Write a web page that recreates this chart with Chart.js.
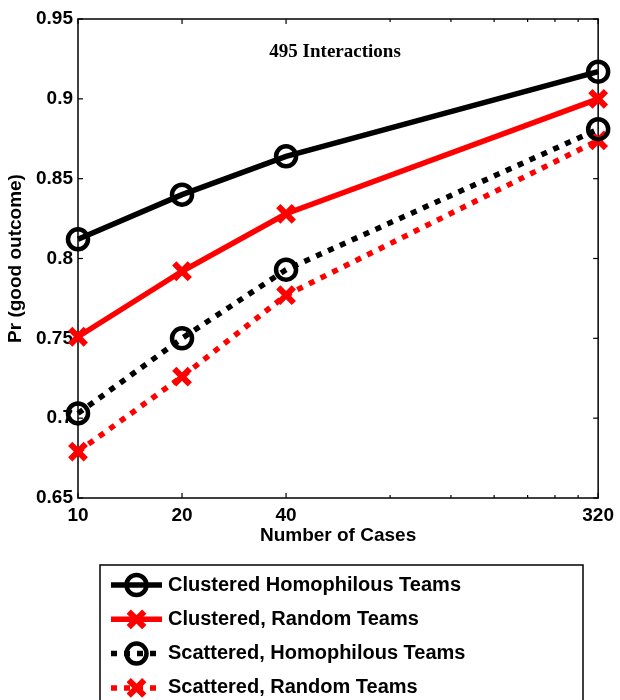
<!DOCTYPE html>
<html><head><meta charset="utf-8">
<script src="https://cdn.jsdelivr.net/npm/chart.js@4/dist/chart.umd.min.js"></script>
<style>html,body{margin:0;padding:0;background:#fff}#wrap{width:620px;height:700px;position:relative}</style>
</head><body><div id="wrap"><canvas id="c" width="620" height="700"></canvas></div>
<script>
// ---- data ----
const cases = [10, 20, 40, 320];
const xTickValues = [10, 20, 40, 320];
const xMinorTicks = [80, 120, 160, 200, 240, 280];
const yTickValues = [0.65, 0.7, 0.75, 0.8, 0.85, 0.9, 0.95];
const clusteredHomophilous = [0.812, 0.840, 0.864, 0.917];
const clusteredRandom      = [0.751, 0.792, 0.828, 0.900];
const scatteredHomophilous = [0.703, 0.750, 0.793, 0.881];
const scatteredRandom      = [0.679, 0.726, 0.777, 0.874];
const seriesNames = ['Clustered Homophilous Teams', 'Clustered, Random Teams',
                     'Scattered, Homophilous Teams', 'Scattered, Random Teams'];
const xTitle = 'Number of Cases';
const yTitle = 'Pr (good outcome)';
const annotationText = '495 Interactions';

// ---- styles ----
const SANS = '"Liberation Sans", Arial, sans-serif';
const SERIF = '"Liberation Serif", "Times New Roman", serif';
const DOT = [6, 7];
function pts(vals){ return cases.map((c,i)=>({x:c, y:vals[i]})); }
function ds(label, vals, color, style, dashed){
  return {
    label, data: pts(vals), borderColor: color, backgroundColor: color,
    borderWidth: 5.5, borderDash: dashed ? DOT : [], borderCapStyle: 'butt',
    pointStyle: style, pointRadius: style === 'circle' ? 10 : 11,
    pointBorderWidth: style === 'circle' ? 4.5 : 6,
    pointBackgroundColor: 'rgba(0,0,0,0)', pointBorderColor: color,
    pointHoverRadius: 10, tension: 0, clip: false, fill: false
  };
}
const datasets = [
  ds(seriesNames[0], clusteredHomophilous, '#000000', 'circle', false),
  ds(seriesNames[1], clusteredRandom, '#ff0000', 'crossRot', false),
  ds(seriesNames[2], scatteredHomophilous, '#000000', 'circle', true),
  ds(seriesNames[3], scatteredRandom, '#ff0000', 'crossRot', true)
];

const framePlugin = {
  id: 'frame',
  beforeDatasetsDraw(chart){
    const {ctx, chartArea:a, scales:{x, y}} = chart;
    ctx.save();
    ctx.strokeStyle = '#000'; ctx.lineWidth = 1.5;
    ctx.strokeRect(a.left, a.top, a.right - a.left, a.bottom - a.top);
    ctx.lineWidth = 1.2;
    const tick = (x1,y1,x2,y2)=>{ctx.beginPath();ctx.moveTo(x1,y1);ctx.lineTo(x2,y2);ctx.stroke();};
    xTickValues.forEach(v=>{ const px = x.getPixelForValue(v);
      tick(px, a.bottom, px, a.bottom-5); tick(px, a.top, px, a.top+5); });
    xMinorTicks.forEach(v=>{ const px = x.getPixelForValue(v);
      tick(px, a.bottom, px, a.bottom-3); tick(px, a.top, px, a.top+3); });
    yTickValues.forEach(v=>{ const py = y.getPixelForValue(v);
      tick(a.left, py, a.left+5, py); tick(a.right, py, a.right-5, py); });
    // annotation
    ctx.fillStyle = '#000';
    ctx.font = 'bold 19px ' + SERIF;
    ctx.textAlign = 'center'; ctx.textBaseline = 'middle';
    ctx.fillText(annotationText, (a.left + a.right)/2 - 3, a.top + 33);
    ctx.restore();
  },
  afterDraw(chart){
    const {ctx} = chart;
    ctx.save();
    const bx = 100, by = 565, bw = 483, bh = 150;
    ctx.strokeStyle = '#000'; ctx.lineWidth = 1.5;
    ctx.strokeRect(bx, by, bw, bh);
    chart.data.datasets.forEach((d, i)=>{
      const yy = 585 + i * 34.3;
      ctx.save();
      ctx.strokeStyle = d.borderColor; ctx.lineWidth = d.borderWidth;
      ctx.lineCap = 'butt'; ctx.setLineDash(d.borderDash || []);
      ctx.beginPath(); ctx.moveTo(111, yy); ctx.lineTo(162, yy); ctx.stroke();
      ctx.restore();
      ctx.save();
      ctx.strokeStyle = d.pointBorderColor; ctx.fillStyle = 'rgba(0,0,0,0)';
      ctx.lineWidth = d.pointBorderWidth; ctx.setLineDash([]);
      Chart.helpers.drawPoint(ctx, {
        pointStyle: d.pointStyle, radius: d.pointRadius, rotation: 0,
        borderWidth: d.pointBorderWidth
      }, 136.5, yy);
      ctx.restore();
      ctx.fillStyle = '#000';
      ctx.font = 'bold 20px ' + SANS;
      ctx.textAlign = 'left'; ctx.textBaseline = 'middle';
      ctx.fillText(d.label, 168, yy);
    });
    ctx.restore();
  }
};

const chart = new Chart(document.getElementById('c'), {
  type: 'line',
  data: { datasets },
  options: {
    responsive: false, animation: false, devicePixelRatio: 1,
    layout: { padding: { top: 19, right: 18, left: 0, bottom: 153 } },
    plugins: { legend: { display: false }, tooltip: { enabled: false } },
    scales: {
      x: {
        type: 'logarithmic', min: 10, max: 320,
        afterBuildTicks: s => { s.ticks = xTickValues.map(v => ({ value: v })); },
        afterFit: s => { s.height = 49; },
        grid: { display: false, drawTicks: false }, border: { display: false },
        ticks: { autoSkip: false, maxRotation: 0, padding: 6, color: '#000',
          font: { family: SANS, size: 19, weight: 'bold' },
          callback: v => String(v) },
        title: { display: true, text: xTitle, color: '#000', padding: 0,
          font: { family: SANS, size: 19, weight: 'bold' } }
      },
      y: {
        type: 'linear', min: 0.65, max: 0.95,
        afterBuildTicks: s => { s.ticks = yTickValues.map(v => ({ value: v })); },
        afterFit: s => { s.width = 78; },
        grid: { display: false, drawTicks: false }, border: { display: false },
        ticks: { padding: 5, color: '#000',
          font: { family: SANS, size: 19, weight: 'bold' },
          callback: v => String(+v.toFixed(2)) },
        title: { display: true, text: yTitle, color: '#000', padding: { top: 4, bottom: 0 },
          font: { family: SANS, size: 19, weight: 'bold' } }
      }
    }
  },
  plugins: [framePlugin]
});
</script></body></html>
